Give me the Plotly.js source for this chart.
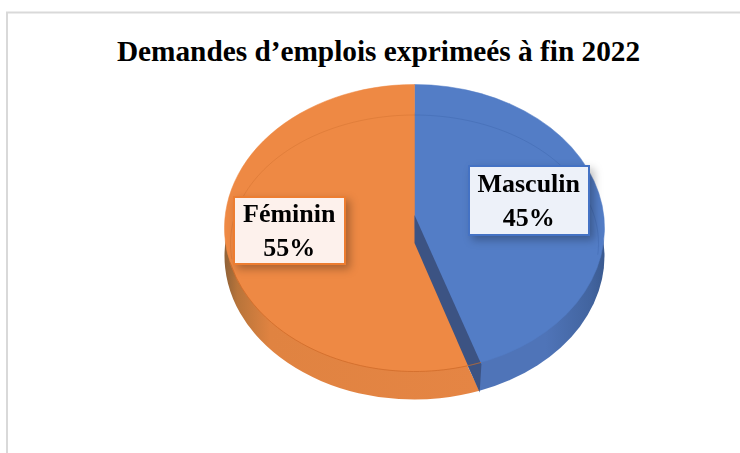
<!DOCTYPE html>
<html>
<head>
<meta charset="utf-8">
<script src="https://cdn.plot.ly/plotly-3.0.1.min.js"></script>
<style>html,body{margin:0;padding:0;background:#fff}#c{width:740px;height:453px}</style>
</head>
<body>
<div id="c"></div>
<script>
const titleText = "Demandes d’emplois exprimeés à fin 2022";
const categories = ["Masculin", "Féminin"];
const values = [45, 55];
const topColors = ["#537DC6", "#EE8944"];
const wallColor = "#3C5383";

const W = 740, H = 453;
const cx = 414.5, cy = 228, rx = 190, ry = 143.5, depth = 28;
const px = x => x / W, py = y => 1 - y / H;
const domain = { x: [px(cx - rx), px(cx + rx)], y: [py(cy + rx), py(cy - rx)] };
const pieBase = { type: "pie", labels: categories, values, sort: false, direction: "clockwise",
  textinfo: "none", hoverinfo: "skip", showlegend: false, domain };

const data = [
  Object.assign({}, pieBase, { rotation: -2, marker: { colors: ["#4F74B8", "#E38443"], line: { width: 0 } } }),
  Object.assign({}, pieBase, { marker: { colors: topColors, line: { color: topColors, width: 0.6 } } })
];

// dividing wall follows the share of the first slice
const ang = 2 * Math.PI * values[0] / (values[0] + values[1]);
const tipX = Math.sin(ang), tipY = -Math.cos(ang);
const wall = [[cx, 215], [cx, 243],
  [cx + rx * tipX * 1.11, cy + ry * tipY + depth], [cx + rx * tipX * 1.14, cy + ry * tipY]];
const poly = p => p.map((q, i) => (i ? "L" : "M") + px(q[0]) + "," + py(q[1])).join(" ");

// faint inner ring of the bevel
function ring(a0, a1, c) {
  const pts = [];
  for (let k = 0; k <= 60; k++) {
    const a = (a0 + (a1 - a0) * k / 60) * Math.PI / 180;
    pts.push([cx + 184 * Math.sin(a), 243.5 - 128.5 * Math.cos(a)]);
  }
  return { type: "path", xref: "paper", yref: "paper", path: poly(pts), line: { color: c, width: 1 } };
}
function rim(x0, x1, c, w) {
  const pts = [];
  for (let k = 0; k <= 40; k++) {
    const x = x0 + (x1 - x0) * k / 40;
    pts.push([x, cy + ry * Math.sqrt(1 - Math.pow((x - cx) / rx, 2))]);
  }
  return { type: "path", xref: "paper", yref: "paper", path: poly(pts), line: { color: c, width: w } };
}

const shapes = [
  rim(230, 467, "rgba(205,105,40,0.75)", 1),
  { type: "path", xref: "paper", yref: "paper", path: poly(wall) + " Z", fillcolor: wallColor, line: { width: 0 } },
  rim(467, 481, "#C9702E", 1),
  ring(0, 95, "rgba(60,100,170,0.4)"),
  ring(-97, 0, "rgba(205,110,45,0.4)"),
  { type: "line", xref: "paper", yref: "paper", x0: px(7), x1: px(7), y0: py(12), y1: py(453), line: { color: "#D9D9D9", width: 2 } },
  { type: "line", xref: "paper", yref: "paper", x0: px(6), x1: px(740), y0: py(12.5), y1: py(12.5), line: { color: "#D9D9D9", width: 2 } }
];

const labelFont = { family: "Liberation Serif", size: 26, color: "#000" };
const box = (i, x0, x1, y0, y1, bg, bc) => ({
  xref: "paper", yref: "paper", x: px((x0 + x1) / 2), y: py((y0 + y1) / 2), xanchor: "center", yanchor: "middle",
  text: "<b>" + categories[i] + "</b><br><b>" + values[i] + "%</b>", showarrow: false, align: "center",
  width: x1 - x0 - 2, height: y1 - y0 - 2, borderpad: 0, borderwidth: 2, bordercolor: bc, bgcolor: bg, font: labelFont
});

const layout = {
  width: W, height: H, margin: { l: 0, r: 0, t: 0, b: 0 }, paper_bgcolor: "#fff", showlegend: false,
  title: { text: "<b>" + titleText + "</b>", x: px(378.5), xref: "paper", xanchor: "center", y: py(51), yref: "paper", yanchor: "middle",
    font: { family: "Liberation Serif", size: 29.3, color: "#000" } },
  shapes,
  annotations: [
    box(0, 469, 589, 166, 235, "#EDF1F9", "#4472C4"),
    box(1, 234, 345, 197, 264, "#FDF1EC", "#ED7D31")
  ]
};

Plotly.newPlot("c", data, layout, { displayModeBar: false, staticPlot: true }).then(gd => {
  const svg = gd.querySelector(".main-svg");
  const ns = "http://www.w3.org/2000/svg";
  const defs = svg.querySelector("defs") || svg.insertBefore(document.createElementNS(ns, "defs"), svg.firstChild);
  const grad = (id, stops) => {
    const g = document.createElementNS(ns, "linearGradient");
    g.setAttribute("id", id); g.setAttribute("x1", "0"); g.setAttribute("x2", "1"); g.setAttribute("y1", "0"); g.setAttribute("y2", "0");
    stops.forEach(s => { const e = document.createElementNS(ns, "stop"); e.setAttribute("offset", s[0]); e.setAttribute("stop-color", s[1]); g.appendChild(e); });
    defs.appendChild(g);
  };
  grad("sideOrange", [[0, "#8F6238"], [0.05, "#B8743A"], [0.18, "#E08341"], [1, "#E58544"]]);
  grad("sideBlue", [[0, "#4F74B8"], [0.7, "#4F74B8"], [0.93, "#42649F"], [1, "#3A5A90"]]);
  const traces = gd.querySelectorAll(".pielayer .trace");
  const m = (dy) => `translate(0,${cy + dy}) scale(1,${ry / rx}) translate(0,${-cy})`;
  traces[0].setAttribute("transform", m(depth));
  traces[1].setAttribute("transform", m(0));
  const sides = traces[0].querySelectorAll(".surface");
  sides[0].style.fill = "url(#sideBlue)";
  sides[1].style.fill = "url(#sideOrange)";
  gd.querySelectorAll(".annotation").forEach(a => { a.style.filter = "drop-shadow(4px 4px 4px rgba(0,0,0,0.28))"; });
});
</script>
</body>
</html>
